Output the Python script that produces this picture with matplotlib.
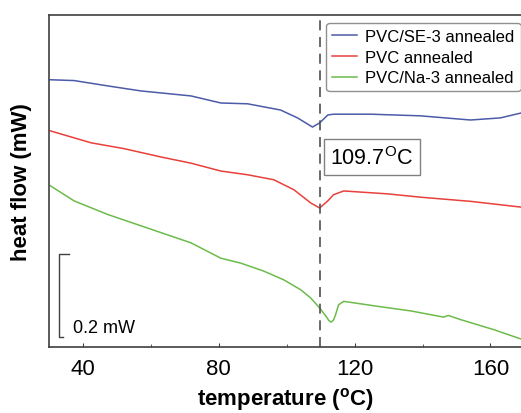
import matplotlib
matplotlib.use('Agg')
import matplotlib.pyplot as plt
from matplotlib.ticker import MultipleLocator

plt.rcParams['font.family'] = ['Liberation Sans', 'DejaVu Sans']
plt.rcParams['mathtext.fontset'] = 'custom'
plt.rcParams['mathtext.rm'] = 'Liberation Sans'
plt.rcParams['mathtext.bf'] = 'Liberation Sans:bold'

# temperature (oC) and heat flow (mW, offset curves)
tBlue = [30.3, 37.4, 47.4, 57.1, 71.8, 80.6, 88.5, 98.2, 103.2, 107.6, 109.7,
         112.1, 113.8, 124.7, 139.4, 154.1, 162.9, 169.1]
hfBlue = [0.644, 0.642, 0.629, 0.617, 0.605, 0.588, 0.586, 0.571, 0.552, 0.530,
          0.540, 0.559, 0.561, 0.561, 0.557, 0.547, 0.552, 0.564]

tRed = [30.3, 42.4, 52.1, 62.9, 71.8, 80.6, 88.5, 96.2, 102.1, 107.1, 109.7,
        112.1, 113.8, 116.8, 129.7, 139.4, 154.1, 169.1]
hfRed = [0.521, 0.492, 0.478, 0.458, 0.443, 0.424, 0.415, 0.403, 0.379, 0.347,
         0.335, 0.352, 0.367, 0.376, 0.369, 0.361, 0.351, 0.337]

tGreen = [30.3, 37.4, 47.4, 57.1, 71.8, 80.6, 86.5, 93.2, 99.1, 104.1, 107.1,
          109.7, 111.5, 112.4, 113.1, 113.8, 114.4, 115.3, 116.8, 126.8, 136.5,
          146.2, 147.6, 151.2, 160.9, 169.1]
hfGreen = [0.389, 0.352, 0.319, 0.292, 0.251, 0.214, 0.202, 0.183, 0.162, 0.138,
           0.118, 0.094, 0.075, 0.064, 0.060, 0.065, 0.078, 0.102, 0.110, 0.098,
           0.087, 0.072, 0.076, 0.066, 0.042, 0.019]

labels = ['PVC/SE-3 annealed', 'PVC annealed', 'PVC/Na-3 annealed']
colors = ['#4b5ba8', '#e8403a', '#6cbb4c']
tPeak = 109.7
scaleBar = 0.2

fig = plt.figure(figsize=(5.21, 4.14), dpi=100)
ax = fig.add_axes([49/521, 66/414, 472/521, 332/414])

ax.plot(tBlue, hfBlue, color=colors[0], lw=1.1, label=labels[0])
ax.plot(tRed, hfRed, color=colors[1], lw=1.1, label=labels[1])
ax.plot(tGreen, hfGreen, color=colors[2], lw=1.1, label=labels[2])

ax.axvline(tPeak, color='#505050', lw=1.2, ls=(0, (6, 4)))

ax.text(125, 0.457, '109.7$^{\\mathrm{O}}$C', fontsize=15.5, ha='center', va='center',
        bbox=dict(boxstyle='square,pad=0.3', fc='white', ec='#808080', lw=1))

# scale bar
ax.plot([35.8, 33.0, 33.0, 34.2], [0.024 + scaleBar, 0.024 + scaleBar, 0.024, 0.024],
        color='#404040', lw=1)
ax.text(37.0, 0.026, '0.2 mW', fontsize=13, ha='left', va='bottom')

ax.set_xlim(30, 169)
ax.set_ylim(0, 0.80)
ax.xaxis.set_major_locator(MultipleLocator(40))
ax.xaxis.set_minor_locator(MultipleLocator(20))
ax.tick_params(axis='x', which='major', direction='in', length=3, labelsize=16,
               color='#404040', pad=8)
ax.tick_params(axis='x', which='minor', direction='in', length=2, color='#404040')
ax.set_yticks([])
for s in ['left', 'top', 'bottom']:
    ax.spines[s].set_color('#404040')
    ax.spines[s].set_linewidth(1.2)
ax.spines['right'].set_visible(False)

ax.set_xlabel('temperature ($^{\\mathbf{o}}$C)', fontsize=16, fontweight='bold', labelpad=4)
ax.set_ylabel('heat flow (mW)', fontsize=16, fontweight='bold', labelpad=12)

leg = ax.legend(loc='upper right', bbox_to_anchor=(0.999, 0.976), fontsize=12,
                handlelength=1.5, handletextpad=0.5, labelspacing=0.35,
                borderpad=0.35, fancybox=True, framealpha=1, edgecolor='#909090',
                borderaxespad=0)
leg.get_frame().set_linewidth(1)

fig.savefig('out.png', dpi=100)
